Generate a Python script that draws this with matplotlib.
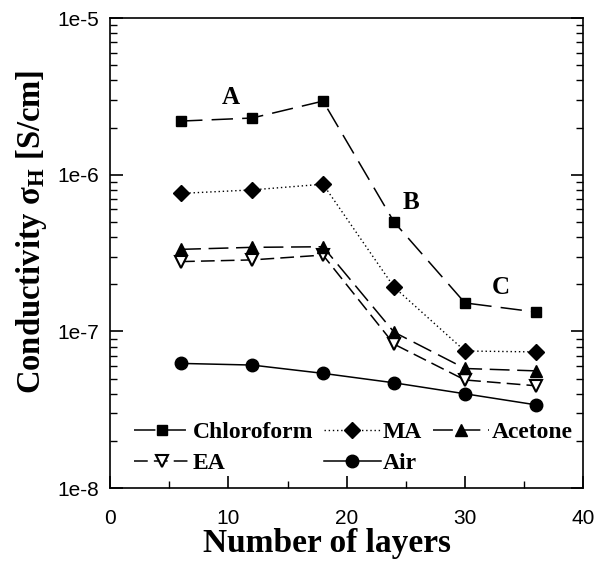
import numpy as np
import matplotlib
matplotlib.use("Agg")
import matplotlib.pyplot as plt
from matplotlib.ticker import FixedLocator, LogLocator, NullFormatter, MultipleLocator

# layers on the x axis
layers = [6, 12, 18, 24, 30, 36]

# conductivity values [S/cm]
chloroform = [2.20e-6, 2.30e-6, 2.95e-6, 5.0e-7, 1.52e-7, 1.33e-7]
ma = [7.6e-7, 8.0e-7, 8.7e-7, 1.92e-7, 7.5e-8, 7.4e-8]
acetone = [3.34e-7, 3.44e-7, 3.47e-7, 9.9e-8, 5.8e-8, 5.6e-8]
ea = [2.79e-7, 2.86e-7, 3.07e-7, 8.3e-8, 4.9e-8, 4.5e-8]
air = [6.25e-8, 6.1e-8, 5.4e-8, 4.7e-8, 4.0e-8, 3.4e-8]

y_ticks = [1e-8, 1e-7, 1e-6, 1e-5]
y_tick_labels = ["1e-8", "1e-7", "1e-6", "1e-5"]
x_ticks = [0, 10, 20, 30, 40]

region_labels = ["A", "B", "C"]
region_pos = [(10.2, 3.1e-6), (25.4, 6.6e-7), (33.0, 1.9e-7)]

serif = "Liberation Serif"
sans = "Liberation Sans"

plt.rcParams["mathtext.fontset"] = "custom"
plt.rcParams["mathtext.rm"] = "Liberation Serif:bold"
plt.rcParams["mathtext.it"] = "Liberation Serif:bold"
plt.rcParams["mathtext.bf"] = "Liberation Serif:bold"

fig = plt.figure(figsize=(6.05, 5.63), dpi=100)
ax = fig.add_axes([0.182, 0.133, 0.782, 0.835])

ax.plot(layers, chloroform, color="black", lw=1.1, dashes=(14, 6),
        marker="s", ms=6.5, mfc="black", mec="black", label="Chloroform")
ax.plot(layers, ea, color="black", lw=1.1, dashes=(9, 4),
        marker="v", ms=8.5, mfc="white", mec="black", mew=1.5, label="EA")
ax.plot(layers, ma, color="black", lw=1.0, ls=(0, (1, 2)),
        marker="D", ms=8.5, mfc="black", mec="black", label="MA")
ax.plot(layers, air, color="black", lw=1.1, ls="-",
        marker="o", ms=9, mfc="black", mec="black", label="Air")
ax.plot(layers, acetone, color="black", lw=1.1, dashes=(13, 5),
        marker="^", ms=8.5, mfc="black", mec="black", label="Acetone")

for txt, (xx, yy) in zip(region_labels, region_pos):
    ax.text(xx, yy, txt, fontsize=18, fontweight="bold", family=serif,
            ha="center", va="center")

ax.set_yscale("log")
ax.set_xlim(0, 40)
ax.set_ylim(1e-8, 1e-5)

ax.yaxis.set_major_locator(FixedLocator(y_ticks))
ax.set_yticklabels(y_tick_labels)
ax.yaxis.set_minor_locator(LogLocator(base=10, subs=np.arange(2, 10)))
ax.yaxis.set_minor_formatter(NullFormatter())
ax.set_xticks(x_ticks)
ax.xaxis.set_minor_locator(MultipleLocator(5))

ax.tick_params(which="both", direction="in", right=True, top=False)
ax.tick_params(which="major", length=9, width=1.2, labelsize=15)
ax.tick_params(axis="x", which="major", pad=15)
ax.tick_params(axis="y", which="major", pad=8)
ax.tick_params(which="minor", length=5, width=1.0)
for lab in ax.get_xticklabels() + ax.get_yticklabels():
    lab.set_family(sans)

ax.set_xlabel("Number of layers", fontsize=24, fontweight="bold",
              family=serif)
ax.set_ylabel(r"Conductivity σ$_{\mathrm{H}}$ [S/cm]",
              fontsize=23.5, fontweight="bold", family=serif)
ax.xaxis.set_label_coords(0.459, -0.085)
ax.yaxis.set_label_coords(-0.13, 0.545)

for sp in ax.spines.values():
    sp.set_linewidth(1.2)

leg = ax.legend(ncol=3, loc="lower left", bbox_to_anchor=(0.01, -0.01),
                frameon=False, handlelength=2.4, handletextpad=0.1,
                columnspacing=0.45, labelspacing=0.4, borderaxespad=0.4,
                prop={"family": serif, "weight": "bold", "size": 17})

fig.savefig("out.png", dpi=100)
